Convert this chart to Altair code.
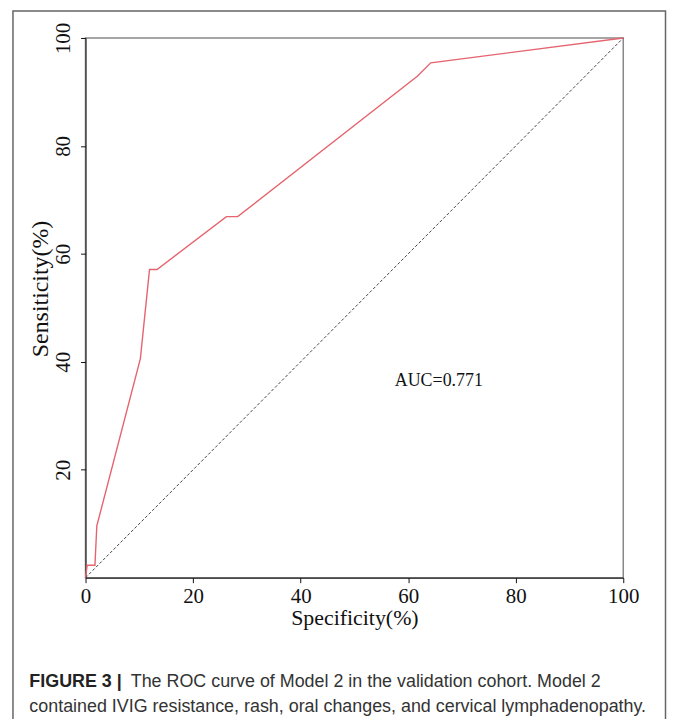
import altair as alt
import pandas as pd

# ROC curve
roc_x = [0, 0.3, 1.75, 2.1, 10.2, 11.9, 13.3, 26.2, 28.3, 61.7, 64.2, 100]
roc_y = [0, 2.3, 2.3, 9.6, 40.6, 57.1, 57.1, 66.9, 66.9, 92.9, 95.4, 100]
diag_x = [0, 100]
diag_y = [0, 100]
x_ticks = [0, 20, 40, 60, 80, 100]
y_ticks = [20, 40, 60, 80, 100]
auc_label = ["AUC=0.771"]
auc_pos = [65.7, 36.5]
caption_bold = ["FIGURE 3 |"]
caption_line1 = ["The ROC curve of Model 2 in the validation cohort. Model 2"]
caption_line2 = ["contained IVIG resistance, rash, oral changes, and cervical lymphadenopathy."]

roc_df = pd.DataFrame({"x": roc_x, "y": roc_y, "i": list(range(len(roc_x)))})
diag_df = pd.DataFrame({"x": diag_x, "y": diag_y})
auc_df = pd.DataFrame({"x": [auc_pos[0]], "y": [auc_pos[1]], "t": auc_label})

SERIF = "Liberation Serif"
SANS = "Liberation Sans"

xs = alt.Scale(domain=[0, 100], nice=False, zero=False)
ys = alt.Scale(domain=[0, 100], nice=False, zero=False)

x_axis = alt.Axis(values=x_ticks, title="Specificity(%)", grid=False,
                  labelFont=SERIF, labelFontSize=21, labelColor="#111",
                  titleFont=SERIF, titleFontSize=22, titleFontWeight="normal",
                  titleColor="#111", domainColor="#111", tickColor="#111",
                  tickSize=5, labelPadding=3, titlePadding=1,
                  labelFlush=False)
y_axis = alt.Axis(values=y_ticks, title="Sensiticity(%)", grid=False,
                  labelFont=SERIF, labelFontSize=21, labelColor="#111",
                  labelAngle=270, labelAlign="center", labelBaseline="bottom",
                  titleFont=SERIF, titleFontSize=24, titleFontWeight="normal",
                  titleColor="#111", domainColor="#111", tickColor="#111",
                  tickSize=5, labelPadding=7,
                  titleX=-45, titleY=252, titleAlign="center",
                  titleBaseline="middle", titleAngle=270,
                  labelFlush=False)

diag = alt.Chart(diag_df).mark_line(color="#444", strokeDash=[3, 2],
                                    strokeWidth=1).encode(
    x=alt.X("x:Q", scale=xs, axis=x_axis),
    y=alt.Y("y:Q", scale=ys, axis=y_axis),
)

roc = alt.Chart(roc_df).mark_line(color="#e5646e", strokeWidth=1.4).encode(
    x=alt.X("x:Q", scale=xs),
    y=alt.Y("y:Q", scale=ys),
    order="i:Q",
)

auc = alt.Chart(auc_df).mark_text(font=SERIF, fontSize=18, color="#111",
                                  align="center", baseline="middle").encode(
    x=alt.X("x:Q", scale=xs),
    y=alt.Y("y:Q", scale=ys),
    text="t:N",
)

cap_bold = alt.Chart(pd.DataFrame({"t": caption_bold})).mark_text(
    font=SANS, fontSize=18, fontWeight="bold", color="#222",
    align="left", baseline="middle").encode(
    x=alt.value(30 - 86.5), y=alt.value(684 - 36), text="t:N")

cap1 = alt.Chart(pd.DataFrame({"t": caption_line1})).mark_text(
    font=SANS, fontSize=18, color="#333",
    align="left", baseline="middle").encode(
    x=alt.value(132 - 86.5), y=alt.value(684 - 36), text="t:N")

cap2 = alt.Chart(pd.DataFrame({"t": caption_line2})).mark_text(
    font=SANS, fontSize=18, color="#333",
    align="left", baseline="middle").encode(
    x=alt.value(30 - 86.5), y=alt.value(709 - 36), text="t:N")

frame = alt.Chart(pd.DataFrame({"a": [0]})).mark_rect(
    fill="transparent", stroke="#666", strokeWidth=1.5).encode(
    x=alt.value(13.5 - 86.5), x2=alt.value(670 - 86.5),
    y=alt.value(8.8 - 36), y2=alt.value(760 - 36))

chart = alt.layer(frame, diag, roc, auc, cap_bold, cap1, cap2).properties(
    width=541, height=543,
    autosize=alt.AutoSizeParams(type="none"),
    padding={"left": 78, "top": 28, "right": 44, "bottom": 140},
    background="white",
).configure_view(stroke="#888", strokeWidth=1.5)

chart.save("out.html", embed_options={"renderer": "svg", "actions": False})
